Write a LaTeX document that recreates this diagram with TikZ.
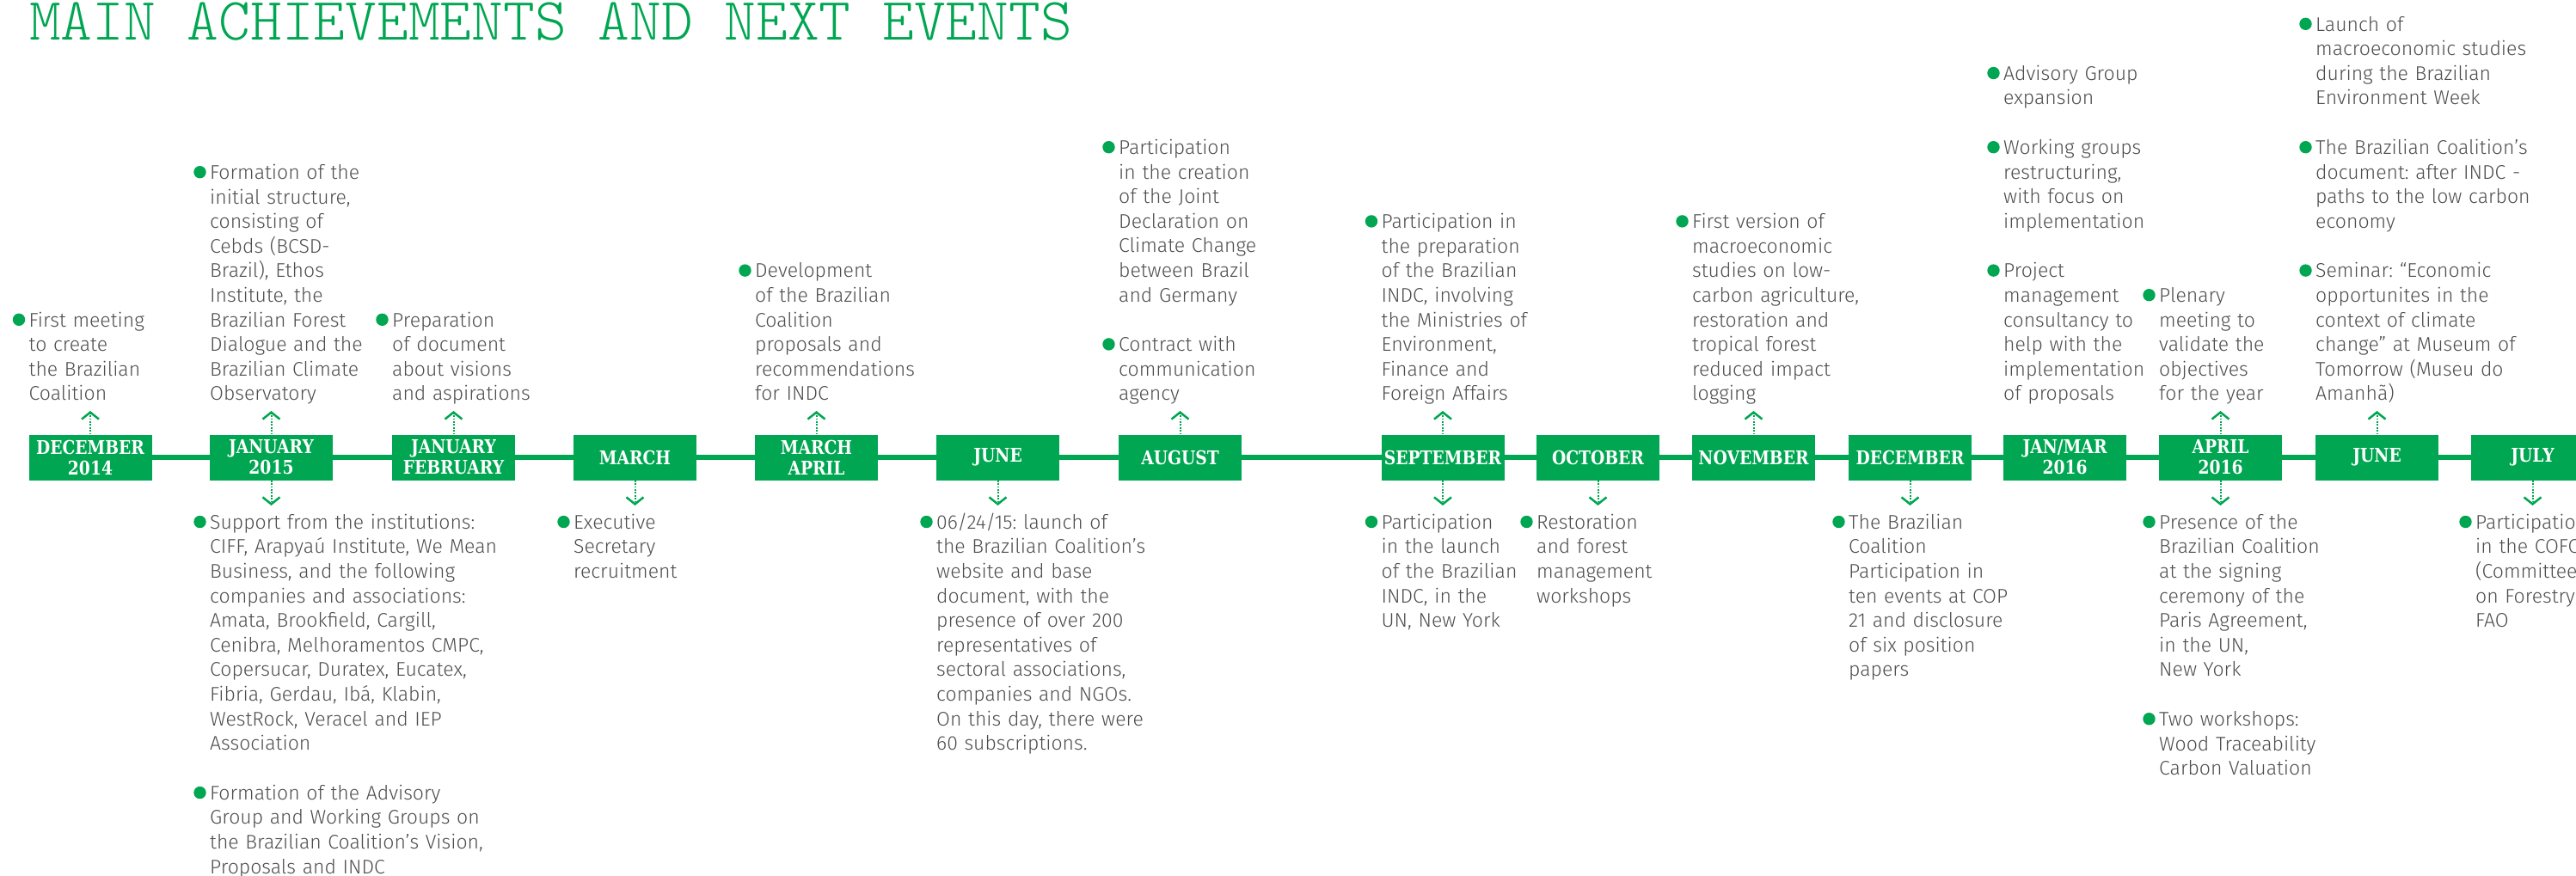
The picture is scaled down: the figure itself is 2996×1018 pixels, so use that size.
\documentclass[tikz,border=0pt]{standalone}
\usepackage{fontspec}
\setmainfont{Fira Sans Light}
\newfontfamily\labelfont{DejaVu Serif}[FakeStretch=0.85]
\newfontfamily\titlefont{lmmonolt10-regular.otf}
\usetikzlibrary{arrows.meta,positioning}
\definecolor{tlgreen}{RGB}{0,166,81}
\definecolor{tlgray}{RGB}{77,77,79}
\frenchspacing
\begin{document}
\begin{tikzpicture}[x=1pt, y=-1pt,
	month/.style={fill=tlgreen, text=white, text width=143pt, minimum height=53pt, inner sep=0pt, align=center, font=\labelfont\fontsize{22pt}{24pt}\selectfont\bfseries},
	event/.style={text=tlgray, text width=420pt, inner sep=0pt, align=left, font=\fontsize{23pt}{28.6pt}\selectfont, execute at begin node=\strut, execute at end node=\strut},
	eventup/.style={event, anchor=south west},
	eventdown/.style={event, anchor=north west},
	bulletdot/.style={fill=tlgreen},
	timeline/.style={draw=tlgreen, line width=5.5pt},
	link/.style={draw=tlgreen, line width=2pt, dash pattern=on 1.8pt off 1.6pt, -{Straight Barb[length=8pt, width=20pt, line width=2.5pt]}},
	linkup/.style={link, shorten >=3.4pt},
	linkdown/.style={link, shorten >=7pt}]
	\useasboundingbox (0,0) rectangle (2996,1018);
	\clip (0,0) rectangle (2996,1018);

	\node[anchor=base west, inner sep=0pt, text=tlgreen, font=\titlefont\fontsize{70pt}{70pt}\selectfont] (heading) at (34,46) {MAIN ACHIEVEMENTS AND NEXT EVENTS};

	\coordinate (tlstart) at (105,532);
	\coordinate (tlend) at (2996,532);
	\draw[timeline] (tlstart) -- (tlend);

	\node[month] (b1) at (105,532) {DECEMBER\\2014};
	\node[month] (b2) at (315.5,532) {JANUARY\\2015};
	\node[month] (b3) at (527.5,532) {JANUARY\\FEBRUARY};
	\node[month] (b4) at (738.5,532) {MARCH};
	\node[month] (b5) at (949.5,532) {MARCH\\APRIL};
	\node[month] (b6) at (1160.5,532) {JUNE};
	\node[month] (b7) at (1372.5,532) {AUGUST};
	\node[month] (b8) at (1678,532) {SEPTEMBER};
	\node[month] (b9) at (1858.5,532) {OCTOBER};
	\node[month] (b10) at (2039.5,532) {NOVEMBER};
	\node[month] (b11) at (2221.5,532) {DECEMBER};
	\node[month] (b12) at (2401.5,532) {JAN/MAR\\2016};
	\node[month] (b13) at (2582.5,532) {APRIL\\2016};
	\node[month] (b14) at (2764.5,532) {JUNE};
	\node[month] (b15) at (2945.5,532) {JULY};

	\node[eventup] (t1) at (33.5,474.6) {First meeting\\to create\\the Brazilian\\Coalition};
	\node[eventup] (t2) at (244,474.6) {Formation of the\\initial structure,\\consisting of\\Cebds (BCSD-\\Brazil), Ethos\\Institute, the\\Brazilian Forest\\Dialogue and the\\Brazilian Climate\\Observatory};
	\node[eventup] (t3) at (456,474.6) {Preparation\\of document\\about visions\\and aspirations};
	\node[eventup] (t5) at (878,474.6) {Development\\of the Brazilian\\Coalition\\proposals and\\recommendations\\for INDC};
	\node[eventup] (t7b) at (1301,474.6) {Contract with\\communication\\agency};
	\node[eventup, above=28.6pt of t7b.north west, anchor=south west] (t7a) {Participation\\in the creation\\of the Joint\\Declaration on\\Climate Change\\between Brazil\\and Germany};
	\node[eventup] (t8) at (1606.5,474.6) {Participation in\\the preparation\\of the Brazilian\\INDC, involving\\the Ministries of\\Environment,\\Finance and\\Foreign Affairs};
	\node[eventup] (t10) at (1968,474.6) {First version of\\macroeconomic\\studies on low-\\carbon agriculture,\\restoration and\\tropical forest\\reduced impact\\logging};
	\node[eventup] (t12c) at (2330,474.6) {Project\\management\\consultancy to\\help with the\\implementation\\of proposals};
	\node[eventup, above=28.6pt of t12c.north west, anchor=south west] (t12b) {Working groups\\restructuring,\\with focus on\\implementation};
	\node[eventup, above=28.6pt of t12b.north west, anchor=south west] (t12a) {Advisory Group\\expansion};
	\node[eventup] (t13) at (2511,474.6) {Plenary\\meeting to\\validate the\\objectives\\for the year};
	\node[eventup] (t14c) at (2693,474.6) {Seminar: “Economic\\opportunites in the\\context of climate\\change” at Museum of\\Tomorrow (Museu do\\Amanhã)};
	\node[eventup, above=28.6pt of t14c.north west, anchor=south west] (t14b) {The Brazilian Coalition’s\\document: after INDC -\\paths to the low carbon\\economy};
	\node[eventup, above=28.6pt of t14b.north west, anchor=south west] (t14a) {Launch of\\macroeconomic studies\\during the Brazilian\\Environment Week};

	\node[eventdown] (s2a) at (244,595) {Support from the institutions:\\CIFF, Arapyaú Institute, We Mean\\Business, and the following\\companies and associations:\\Amata, Brookfield, Cargill,\\Cenibra, Melhoramentos CMPC,\\Copersucar, Duratex, Eucatex,\\Fibria, Gerdau, Ibá, Klabin,\\WestRock, Veracel and IEP\\Association};
	\node[eventdown, below=28.6pt of s2a.south west, anchor=north west] (s2b) {Formation of the Advisory\\Group and Working Groups on\\the Brazilian Coalition’s Vision,\\Proposals and INDC};
	\node[eventdown] (s4) at (667,595) {Executive\\Secretary\\recruitment};
	\node[eventdown] (s6) at (1089,595) {06/24/15: launch of\\the Brazilian Coalition’s\\website and base\\document, with the\\presence of over 200\\representatives of\\sectoral associations,\\companies and NGOs.\\On this day, there were\\60 subscriptions.};
	\node[eventdown] (s8) at (1606.5,595) {Participation\\in the launch\\of the Brazilian\\INDC, in the\\UN, New York};
	\node[eventdown] (s9) at (1787,595) {Restoration\\and forest\\management\\workshops};
	\node[eventdown] (s11) at (2150,595) {The Brazilian\\Coalition\\Participation in\\ten events at COP\\21 and disclosure\\of six position\\papers};
	\node[eventdown] (s13a) at (2511,595) {Presence of the\\Brazilian Coalition\\at the signing\\ceremony of the\\Paris Agreement,\\in the UN,\\New York};
	\node[eventdown, below=28.6pt of s13a.south west, anchor=north west] (s13b) {Two workshops:\\Wood Traceability\\Carbon Valuation};
	\node[eventdown] (s15) at (2879,595) {Participation\\in the COFO\\(Committee\\on Forestry)\\FAO};

	\fill[bulletdot] ([xshift=-11.5pt,yshift=-12pt]t1.north west) circle (7.2pt);
	\fill[bulletdot] ([xshift=-11.5pt,yshift=-12pt]t2.north west) circle (7.2pt);
	\fill[bulletdot] ([xshift=-11.5pt,yshift=-12pt]t3.north west) circle (7.2pt);
	\fill[bulletdot] ([xshift=-11.5pt,yshift=-12pt]t5.north west) circle (7.2pt);
	\fill[bulletdot] ([xshift=-11.5pt,yshift=-12pt]t7a.north west) circle (7.2pt);
	\fill[bulletdot] ([xshift=-11.5pt,yshift=-12pt]t7b.north west) circle (7.2pt);
	\fill[bulletdot] ([xshift=-11.5pt,yshift=-12pt]t8.north west) circle (7.2pt);
	\fill[bulletdot] ([xshift=-11.5pt,yshift=-12pt]t10.north west) circle (7.2pt);
	\fill[bulletdot] ([xshift=-11.5pt,yshift=-12pt]t12a.north west) circle (7.2pt);
	\fill[bulletdot] ([xshift=-11.5pt,yshift=-12pt]t12b.north west) circle (7.2pt);
	\fill[bulletdot] ([xshift=-11.5pt,yshift=-12pt]t12c.north west) circle (7.2pt);
	\fill[bulletdot] ([xshift=-11.5pt,yshift=-12pt]t13.north west) circle (7.2pt);
	\fill[bulletdot] ([xshift=-11.5pt,yshift=-12pt]t14a.north west) circle (7.2pt);
	\fill[bulletdot] ([xshift=-11.5pt,yshift=-12pt]t14b.north west) circle (7.2pt);
	\fill[bulletdot] ([xshift=-11.5pt,yshift=-12pt]t14c.north west) circle (7.2pt);

	\fill[bulletdot] ([xshift=-11.5pt,yshift=-12pt]s2a.north west) circle (7.2pt);
	\fill[bulletdot] ([xshift=-11.5pt,yshift=-12pt]s2b.north west) circle (7.2pt);
	\fill[bulletdot] ([xshift=-11.5pt,yshift=-12pt]s4.north west) circle (7.2pt);
	\fill[bulletdot] ([xshift=-11.5pt,yshift=-12pt]s6.north west) circle (7.2pt);
	\fill[bulletdot] ([xshift=-11.5pt,yshift=-12pt]s8.north west) circle (7.2pt);
	\fill[bulletdot] ([xshift=-11.5pt,yshift=-12pt]s9.north west) circle (7.2pt);
	\fill[bulletdot] ([xshift=-11.5pt,yshift=-12pt]s11.north west) circle (7.2pt);
	\fill[bulletdot] ([xshift=-11.5pt,yshift=-12pt]s13a.north west) circle (7.2pt);
	\fill[bulletdot] ([xshift=-11.5pt,yshift=-12pt]s13b.north west) circle (7.2pt);
	\fill[bulletdot] ([xshift=-11.5pt,yshift=-12pt]s15.north west) circle (7.2pt);

	\draw[linkup] (b1.north) -- (b1.north |- t1.south);
	\draw[linkup] (b2.north) -- (b2.north |- t2.south);
	\draw[linkup] (b3.north) -- (b3.north |- t3.south);
	\draw[linkup] (b5.north) -- (b5.north |- t5.south);
	\draw[linkup] (b7.north) -- (b7.north |- t7b.south);
	\draw[linkup] (b8.north) -- (b8.north |- t8.south);
	\draw[linkup] (b10.north) -- (b10.north |- t10.south);
	\draw[linkup] (b13.north) -- (b13.north |- t13.south);
	\draw[linkup] (b14.north) -- (b14.north |- t14c.south);

	\draw[linkdown] (b2.south) -- (b2.south |- s2a.north);
	\draw[linkdown] (b4.south) -- (b4.south |- s4.north);
	\draw[linkdown] (b6.south) -- (b6.south |- s6.north);
	\draw[linkdown] (b8.south) -- (b8.south |- s8.north);
	\draw[linkdown] (b9.south) -- (b9.south |- s9.north);
	\draw[linkdown] (b11.south) -- (b11.south |- s11.north);
	\draw[linkdown] (b13.south) -- (b13.south |- s13a.north);
	\draw[linkdown] (b15.south) -- (b15.south |- s15.north);
\end{tikzpicture}
\end{document}
